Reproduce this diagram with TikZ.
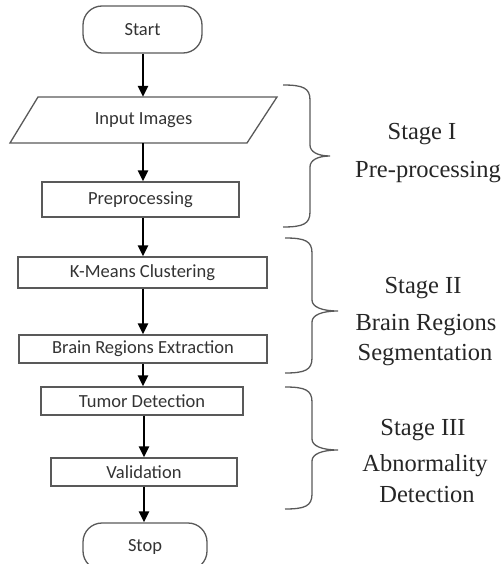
\documentclass[tikz,border=0pt]{standalone}
\usepackage{fontspec}
\setmainfont{Liberation Serif}
\newfontfamily\stagefont{Liberation Serif}
\newfontfamily\boxfont{Carlito}
\usetikzlibrary{arrows.meta}
\begin{document}
\begin{tikzpicture}[x=1pt,y=-1pt,
  box/.style={draw=black!65,line width=1.3pt,rectangle,inner sep=0pt,
     font=\boxfont\fontsize{18.5}{22}\selectfont,text=black!80},
  term/.style={box,rounded corners=19pt},
  arr/.style={line width=2.6pt,-{Triangle[length=11pt,width=10pt]}},
  brace/.style={draw=black!65,line width=1.3pt},
  stage/.style={font=\stagefont\fontsize{24.5}{33}\selectfont,align=center,text=black!85}]
\useasboundingbox (0,0) rectangle (501,564);
\begin{scope}
\clip (0,0) rectangle (501,564);
\node[term,minimum width=119pt,minimum height=47pt] (start) at (142.5,29.5) {Start};
\draw[box] (38,97) -- (277,97) -- (247,143) -- (10,143) -- cycle;
\node[inner sep=0pt,minimum width=200pt,minimum height=46pt,
  font=\boxfont\fontsize{18.5}{22}\selectfont,text=black!80] (inp) at (143.5,120) {Input Images};
\node[box,minimum width=197pt,minimum height=35pt] (pre) at (140.5,199.5) {Preprocessing};
\node[box,minimum width=249pt,minimum height=31pt] (km) at (142.5,272.5) {K-Means Clustering};
\node[box,minimum width=248pt,minimum height=28pt] (bre) at (143,349) {Brain Regions Extraction};
\node[box,minimum width=202pt,minimum height=28pt] (tum) at (142,401) {Tumor Detection};
\node[box,minimum width=186pt,minimum height=28pt] (val) at (144,472) {Validation};
\node[term,minimum width=124pt,minimum height=47pt] (stop) at (145,546.5) {Stop};
\coordinate (ax) at (143,0);
\draw[arr] (start.south -| ax) -- (inp.north -| ax);
\draw[arr] (inp.south -| ax) -- (pre.north -| ax);
\draw[arr] (pre.south -| ax) -- (km.north -| ax);
\draw[arr] (km.south -| ax) -- (bre.north -| ax);
\draw[arr] (bre.south -| ax) -- (tum.north -| ax);
\draw[arr] ([xshift=1pt]tum.south -| ax) -- ([xshift=1pt]val.north -| ax);
\draw[arr] ([xshift=1pt]val.south -| ax) -- ([xshift=1pt]stop.north -| ax);
% braces
\draw[brace] (283,85) .. controls (303,85) and (310,88) .. (310,100)
  -- (310,145) .. controls (310,152) and (318,156) .. (330,156)
  .. controls (318,156) and (310,160) .. (310,167)
  -- (310,212) .. controls (310,224) and (303,227) .. (283,227);
\draw[brace] (285,238) .. controls (305,238) and (312,241) .. (312,253)
  -- (312,300) .. controls (312,307) and (322,311) .. (338,311)
  .. controls (322,311) and (312,315) .. (312,322)
  -- (312,358) .. controls (312,370) and (305,373) .. (285,373);
\draw[brace] (285,387) .. controls (305,387) and (312,390) .. (312,402)
  -- (312,439) .. controls (312,446) and (322,450) .. (338,450)
  .. controls (322,450) and (312,454) .. (312,461)
  -- (312,494) .. controls (312,506) and (305,509) .. (285,509);
\node[stage,anchor=base] (s1a) at (422,140) {Stage I};
\node[stage,anchor=base] (s1b) at (428,177) {Pre-processing};
\node[stage,anchor=base] (s2a) at (423,293) {Stage II};
\node[stage,anchor=base] (s2b) at (426,330) {Brain Regions};
\node[stage,anchor=base] (s2c) at (425,360) {Segmentation};
\node[stage,anchor=base] (s3a) at (423,435) {Stage III};
\node[stage,anchor=base] (s3b) at (425,471) {Abnormality};
\node[stage,anchor=base] (s3c) at (427,502) {Detection};
\end{scope}
\end{tikzpicture}
\end{document}
